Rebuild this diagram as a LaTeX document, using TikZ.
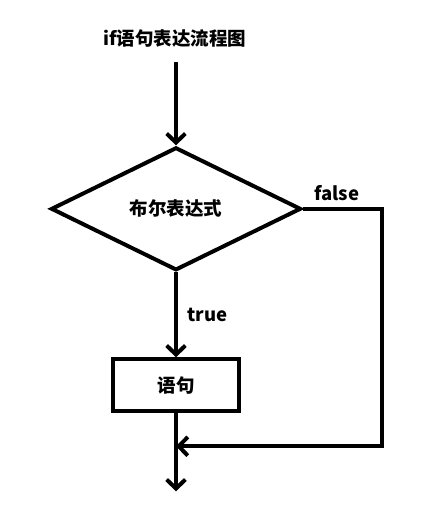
\documentclass[tikz,border=0pt]{standalone}
\usepackage{fontspec}
\usepackage{tikz}
\setmainfont{Noto Sans CJK SC}
\usetikzlibrary{shapes.geometric, arrows.meta, positioning, calc}

\begin{document}
\begin{tikzpicture}[
    line width=3.4pt,
    flow/.style={-{Straight Barb[length=2.7mm, width=5.6mm]}},
    decision/.style={diamond, draw, minimum width=7.5cm, minimum height=3.69cm, inner sep=0pt,
                     font=\fontsize{15.8}{18}\selectfont\bfseries},
    stmt/.style={rectangle, draw, minimum width=3.78cm, minimum height=1.56cm,
                 font=\fontsize{15.8}{18}\selectfont\bfseries},
    lbl/.style={font=\fontsize{15.8}{18}\selectfont\bfseries, inner sep=2pt}
]
    \useasboundingbox (0,0) rectangle (13.23,-15.66);
    \node[lbl] (title) at (5.25,-1.14) {if语句表达流程图};
    \coordinate (start) at (5.28,-1.86);
    \node[decision, below=2.5cm of start] (cond) {布尔表达式};
    \node[stmt, below=2.55cm of cond] (body) {语句};
    \coordinate[below=0.99cm of body] (join);
    \coordinate[below=2.34cm of body] (stop);
    \coordinate[right=2.37cm of cond.east] (corner);
    \draw[flow] (start) -- (cond);
    \draw[flow] (cond) -- node[lbl, right=6pt] {true} (body);
    \draw[flow] (cond.east) -- node[lbl, above=3pt, pos=0.43] {false} (corner) |- (join);
    \draw[flow] (body) -- (stop);
\end{tikzpicture}
\end{document}
